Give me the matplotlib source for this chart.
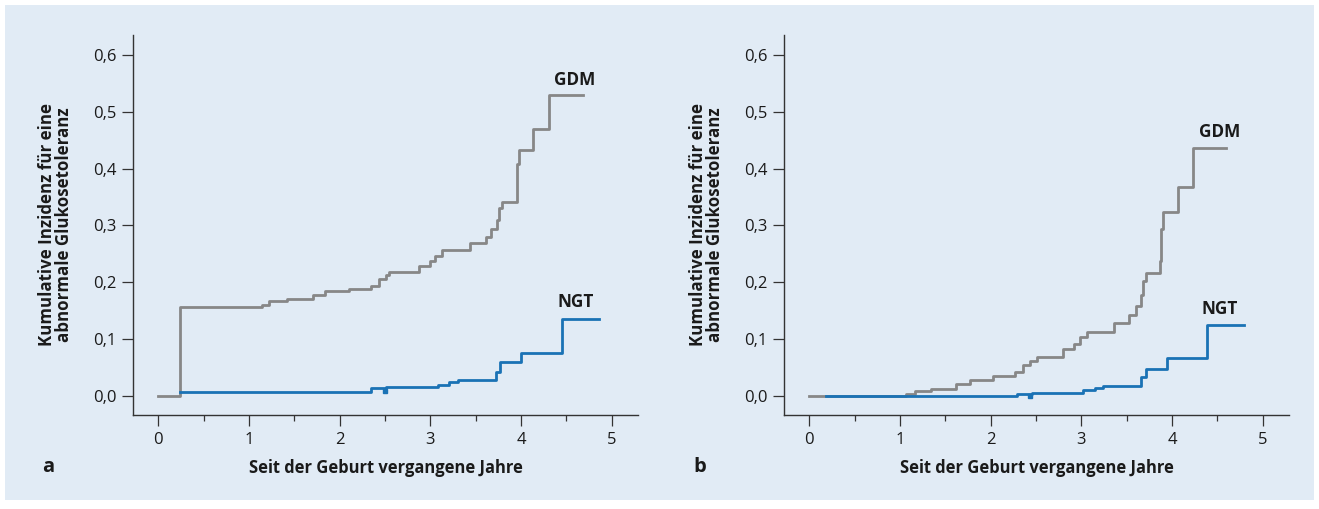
import matplotlib
matplotlib.use("Agg")
from matplotlib import pyplot as plt
from matplotlib.patches import Rectangle
from matplotlib.ticker import MultipleLocator

plt.rcParams['font.family'] = ['Open Sans', 'DejaVu Sans']

# panel a - step curves (time in years, cumulative incidence)
gdm_a_t = [0, 0.24, 1.14, 1.22, 1.42, 1.70, 1.84, 2.10, 2.34, 2.43, 2.51, 2.54, 2.87,
           3.00, 3.05, 3.13, 3.44, 3.61, 3.67, 3.74, 3.76, 3.79, 3.95, 3.955, 3.98,
           4.13, 4.31, 4.68]
gdm_a_y = [0, 0.157, 0.160, 0.167, 0.170, 0.177, 0.184, 0.189, 0.194, 0.205, 0.212, 0.219,
           0.229, 0.237, 0.246, 0.256, 0.270, 0.280, 0.293, 0.310, 0.330, 0.342, 0.361,
           0.408, 0.433, 0.470, 0.529, 0.529]
ngt_a_t = [0.24, 2.35, 2.51, 3.08, 3.20, 3.30, 3.72, 3.77, 4.00, 4.45, 4.86]
ngt_a_y = [0.007, 0.0135, 0.015, 0.020, 0.024, 0.028, 0.043, 0.059, 0.076, 0.135, 0.135]
cens_a_t = [2.50]
cens_a_y = [0.0135]

# panel b
gdm_b_t = [0, 1.07, 1.16, 1.34, 1.62, 1.77, 2.03, 2.27, 2.36, 2.43, 2.51, 2.80, 2.92,
           2.98, 3.06, 3.36, 3.52, 3.60, 3.66, 3.68, 3.71, 3.87, 3.88, 3.90, 4.07,
           4.23, 4.60]
gdm_b_y = [0, 0.003, 0.008, 0.012, 0.021, 0.029, 0.035, 0.042, 0.055, 0.062, 0.069,
           0.083, 0.092, 0.103, 0.113, 0.129, 0.142, 0.158, 0.178, 0.202, 0.216, 0.238,
           0.294, 0.323, 0.367, 0.436, 0.436]
ngt_b_t = [0.18, 2.29, 2.45, 3.02, 3.15, 3.24, 3.66, 3.71, 3.94, 4.39, 4.79]
ngt_b_y = [0, 0.004, 0.006, 0.011, 0.014, 0.018, 0.033, 0.048, 0.066, 0.125, 0.125]
cens_b_t = [2.43]
cens_b_y = [0.004]

labels_a = {"GDM": (4.59, 0.556), "NGT": (4.60, 0.166)}
labels_b = {"GDM": (4.52, 0.464), "NGT": (4.52, 0.153)}

y_ticks = [0, 0.1, 0.2, 0.3, 0.4, 0.5, 0.6]
y_ticklabels = ["0,0", "0,1", "0,2", "0,3", "0,4", "0,5", "0,6"]
x_ticks = [0, 1, 2, 3, 4, 5]

bg = "#e1ebf5"
grey = "#878787"
blue = "#1a72b5"
txt = "#1a1a1a"

W, H = 1319, 509
fig = plt.figure(figsize=(W / 100, H / 100), dpi=100, facecolor="white")
fig.patches.append(Rectangle((5 / W, 9 / H), 1 - 10 / W, 1 - 14 / H,
                             transform=fig.transFigure, facecolor=bg, edgecolor="none",
                             zorder=-5))


def panel(left_px, gdm_t, gdm_y, ngt_t, ngt_y, cens_t, cens_y, labels, letter):
    ax = fig.add_axes([left_px / W, (H - 415) / H, 505 / W, 380 / H])
    ax.set_facecolor("none")
    ax.step(gdm_t, gdm_y, where="post", color=grey, lw=2.0, zorder=2)
    ax.step(ngt_t, ngt_y, where="post", color=blue, lw=2.0, zorder=3)
    # small censoring notch on the NGT curve
    ax.plot(cens_t, [v - 0.004 for v in cens_y], ls="none", marker="s", ms=3.4,
            color=blue, zorder=3)
    for name, (tx, ty) in labels.items():
        ax.text(tx, ty, name, ha="center", va="center", fontsize=12.3, fontweight="bold",
                color=txt)
    ax.set_xlim(-0.28, 5.29)
    ax.set_ylim(-0.0334, 0.635)
    ax.set_yticks(y_ticks)
    ax.set_yticklabels(y_ticklabels)
    ax.set_xticks(x_ticks)
    ax.xaxis.set_minor_locator(MultipleLocator(0.5))
    for s in ["top", "right"]:
        ax.spines[s].set_visible(False)
    for s in ["left", "bottom"]:
        ax.spines[s].set_color("#333333")
        ax.spines[s].set_linewidth(1.0)
    ax.tick_params(axis="both", which="major", length=8, width=0.9, color="#333333",
                   labelsize=12, labelcolor=txt, pad=4)
    ax.tick_params(axis="x", which="minor", length=4, width=0.9, color="#333333")
    ax.set_xlabel("Seit der Geburt vergangene Jahre", fontsize=11.9, fontweight="bold",
                  color=txt, labelpad=8)
    ax.set_ylabel("Kumulative Inzidenz für eine\nabnormale Glukosetoleranz", fontsize=12.2,
                  fontweight="bold", color=txt, labelpad=14, linespacing=0.95)
    fig.text((left_px - 91) / W, (H - 467) / H, letter, fontsize=14.5, fontweight="bold",
             color=txt, va="center")
    return ax


panel(133, gdm_a_t, gdm_a_y, ngt_a_t, ngt_a_y, cens_a_t, cens_a_y, labels_a, "a")
panel(784, gdm_b_t, gdm_b_y, ngt_b_t, ngt_b_y, cens_b_t, cens_b_y, labels_b, "b")

fig.savefig("out.png", dpi=100, facecolor="white")
